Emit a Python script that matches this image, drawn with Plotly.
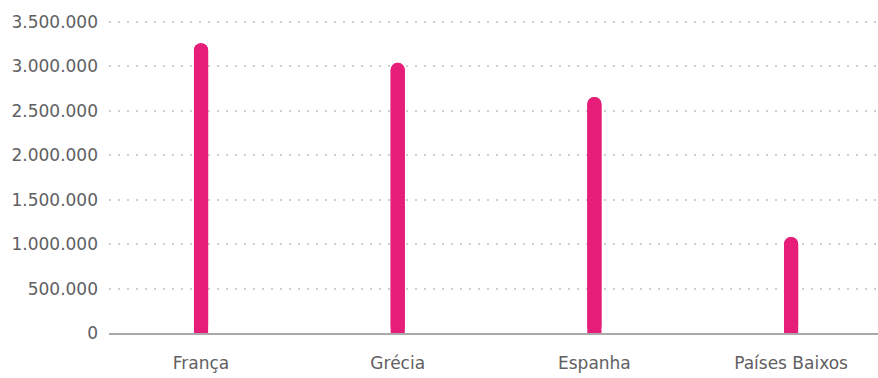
import plotly.graph_objects as go

countries = ["França", "Grécia", "Espanha", "Países Baixos"]
values = [3260000, 3040000, 2655000, 1080000]
y_ticks = [0, 500000, 1000000, 1500000, 2000000, 2500000, 3000000, 3500000]

pink = "#e61e79"
bar_w = 0.072

fig = go.Figure()
# upward bar rounds the top end, downward bar (from the value back to 0) rounds the bottom end
fig.add_trace(go.Bar(x=countries, y=values, width=bar_w, marker=dict(color=pink, cornerradius=7, line=dict(width=0)),
                     hoverinfo="skip"))
fig.add_trace(go.Bar(x=countries, y=[-v for v in values], base=values, width=bar_w,
                     marker=dict(color=pink, cornerradius=7, line=dict(width=0)), hoverinfo="skip"))

fig.update_layout(
    width=878, height=378, autosize=False,
    margin=dict(l=109, r=0, t=20, b=45, autoexpand=False),
    barmode="overlay",
    showlegend=False,
    plot_bgcolor="white", paper_bgcolor="white",
    separators=",.",
    font=dict(family="DejaVu Sans, sans-serif", size=17, color="#5f6062"),
)
fig.update_xaxes(
    range=[-0.468, 3.442], automargin=False,
    showgrid=False, showline=True, linecolor="#a8a8a8", linewidth=2,
    ticks="", ticklabelstandoff=14,
    fixedrange=True,
)
# a little headroom above the top tick so its gridline is drawn
fig.update_yaxes(
    range=[0, 3522000], tickvals=y_ticks, tickformat=",.0f", automargin=False,
    showgrid=True, gridcolor="#cfcfcf", gridwidth=1.5, griddash="1.5px,7.5px",
    zeroline=False, showline=False, ticks="", ticklabelstandoff=10,
    fixedrange=True,
)

fig.write_html("out.html", config={"displayModeBar": False})
